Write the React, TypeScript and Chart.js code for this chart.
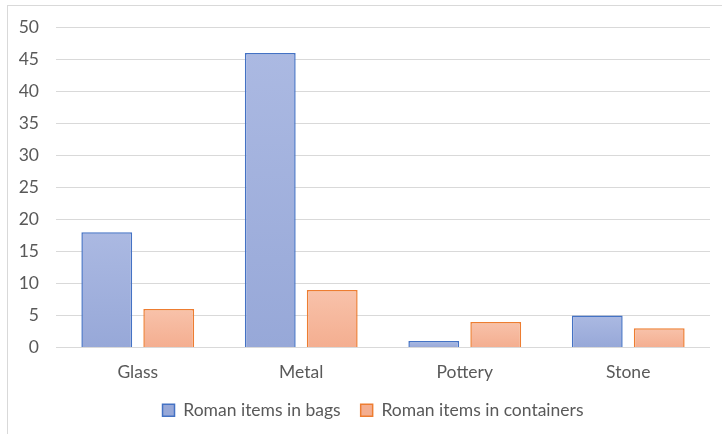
import React, { useEffect, useRef } from "react";
import { Chart, registerables } from "chart.js";

Chart.register(...registerables);

const categories = ["Glass", "Metal", "Pottery", "Stone"];
const bagsValues = [18, 46, 1, 5];
const containerValues = [6, 9, 4, 3];
const seriesNames = ["Roman items in bags", "Roman items in containers"];

const FONT = "Lato, 'Open Sans', sans-serif";
const TEXT = "#595959";
const GRID = "#d9d9d9";

const W = 746;
const H = 429;

function gradientFill(top: string, bottom: string) {
  return (ctx: any) => {
    const chart = ctx.chart;
    const ys = chart.scales && chart.scales.y;
    if (ctx.dataIndex === undefined || !ys || ctx.parsed === undefined) return top;
    const v = ctx.parsed.y;
    const y0 = ys.getPixelForValue(0);
    const y1 = ys.getPixelForValue(v);
    if (!isFinite(y0) || !isFinite(y1) || y0 === y1) return top;
    const g = chart.ctx.createLinearGradient(0, y1, 0, y0);
    g.addColorStop(0, top);
    g.addColorStop(1, bottom);
    return g;
  };
}

export default function App() {
  const ref = useRef<HTMLCanvasElement | null>(null);

  useEffect(() => {
    if (!ref.current) return;
    const chart = new Chart(ref.current, {
      type: "bar",
      data: {
        labels: categories,
        datasets: [
          {
            label: seriesNames[0],
            data: bagsValues,
            backgroundColor: gradientFill("#abb9e2", "#97a8d8"),
            borderColor: "#4472c4",
            borderWidth: 1.5,
            categoryPercentage: 0.758,
            barPercentage: 0.82,
          },
          {
            label: seriesNames[1],
            data: containerValues,
            backgroundColor: gradientFill("#f8c2aa", "#f4ae90"),
            borderColor: "#ed7d31",
            borderWidth: 1.5,
            categoryPercentage: 0.758,
            barPercentage: 0.82,
          },
        ],
      },
      options: {
        responsive: false,
        animation: false,
        devicePixelRatio: 1,
        layout: { padding: { left: 0, right: 0, top: 27, bottom: 0 } },
        plugins: {
          legend: {
            display: true,
            position: "bottom",
            labels: {
              boxWidth: 12,
              boxHeight: 12,
              padding: 20,
              color: TEXT,
              font: { family: FONT, size: 17.5 },
            },
          },
          tooltip: { enabled: false },
          title: { display: false },
        },
        scales: {
          x: {
            grid: { display: false, drawTicks: false },
            border: { display: false },
            ticks: {
              color: TEXT,
              font: { family: FONT, size: 17.5 },
              padding: 14,
            },
            afterFit: (s: any) => {
              s.height = 34;
            },
          },
          y: {
            min: 0,
            max: 50,
            position: "left",
            grid: { color: GRID, lineWidth: 1, drawTicks: false },
            border: { display: false },
            ticks: {
              stepSize: 5,
              color: TEXT,
              font: { family: FONT, size: 17.5 },
              padding: 17,
            },
            afterFit: (s: any) => {
              s.width = 56;
            },
          },
          y2: {
            position: "right",
            display: true,
            grid: { display: false, drawTicks: false },
            border: { display: false },
            ticks: { display: false },
            afterFit: (s: any) => {
              s.width = 36;
            },
          },
        },
      },
    });
    return () => chart.destroy();
  }, []);

  return (
    <div
      style={{
        position: "absolute",
        left: 0,
        top: 0,
        width: 722,
        height: 434,
        overflow: "hidden",
        background: "#ffffff",
      }}
    >
      <div
        style={{
          position: "absolute",
          left: 7,
          top: 5,
          width: 800,
          height: 600,
          borderTop: `1px solid ${GRID}`,
          borderLeft: `1px solid ${GRID}`,
        }}
      />
      <canvas
        ref={ref}
        width={W}
        height={H}
        style={{ position: "absolute", left: 0, top: 0, width: W, height: H }}
      />
    </div>
  );
}
